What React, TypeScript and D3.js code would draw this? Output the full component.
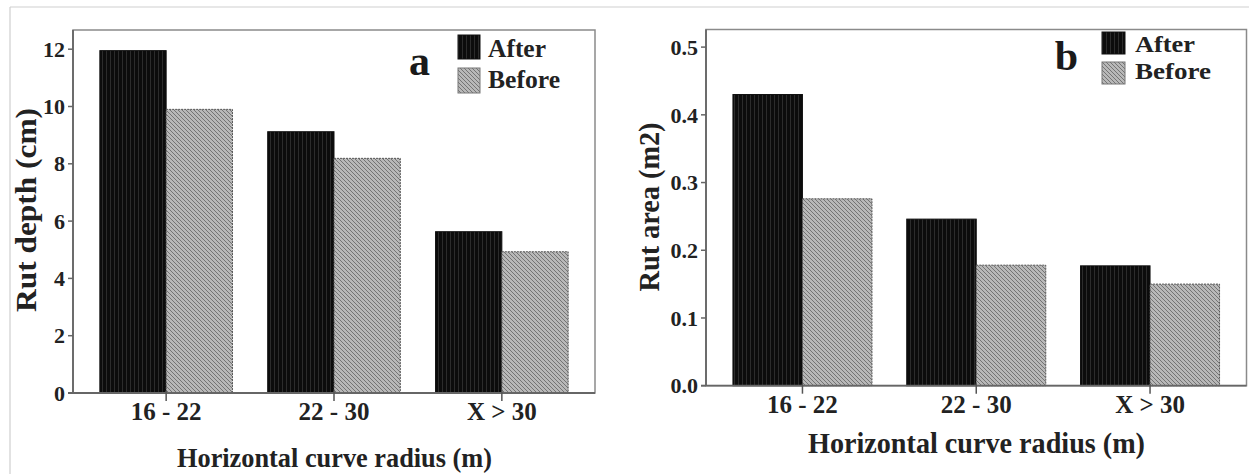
import React from "react";
import * as d3 from "d3";

const categories = ["16 - 22", "22 - 30", "X > 30"];
const seriesNames = ["After", "Before"];
const depthAfter = [11.95, 9.12, 5.63];
const depthBefore = [9.9, 8.19, 4.93];
const areaAfter = [0.43, 0.246, 0.177];
const areaBefore = [0.276, 0.178, 0.15];
const depthTicks = [0, 2, 4, 6, 8, 10, 12];
const areaTicks = [0, 0.1, 0.2, 0.3, 0.4, 0.5];

const FONT = "'Liberation Serif', 'Times New Roman', serif";

type PanelCfg = {
  id: string;
  letter: string;
  after: number[];
  before: number[];
  ticks: number[];
  fmt: (v: number) => string;
  yMax: number;
  x0: number; x1: number; y0: number; y1: number;
  padIn: number; padOut: number;
  yTickRight: number;
  xTickBase: number;
  xTitle: { cx: number; base: number; len: number; size: number };
  yTitle: string;
  yTitlePos: { cy: number; base: number; len: number; size: number };
  letterPos: { cx: number; base: number };
  legend: { bx: number; bw: number; ay: number; ah: number; by: number; bh: number; tx: number; ab: number; bb: number; size: number; la: number; lb: number };
};

const panels: PanelCfg[] = [
  {
    id: "a", letter: "a", after: depthAfter, before: depthBefore, ticks: depthTicks,
    fmt: (v) => d3.format("d")(v), yMax: 12.67,
    x0: 73, x1: 595, y0: 30, y1: 393, padIn: 0.21, padOut: 0.16,
    yTickRight: 65, xTickBase: 420,
    xTitle: { cx: 334.5, base: 467, len: 315, size: 28 },
    yTitle: "Rut depth (cm)",
    yTitlePos: { cy: 210, base: 36, len: 204, size: 29 },
    letterPos: { cx: 419.5, base: 75 },
    legend: { bx: 458, bw: 22, ay: 35, ah: 24, by: 68, bh: 25, tx: 488, ab: 57, bb: 88, size: 26, la: 58, lb: 72 },
  },
  {
    id: "b", letter: "b", after: areaAfter, before: areaBefore, ticks: areaTicks,
    fmt: (v) => d3.format(".1f")(v), yMax: 0.526,
    x0: 706, x1: 1246.5, y0: 29.5, y1: 385.7, padIn: 0.2, padOut: 0.155,
    yTickRight: 698, xTickBase: 413,
    xTitle: { cx: 976.5, base: 453, len: 337, size: 29 },
    yTitle: "Rut area (m2)",
    yTitlePos: { cy: 207, base: 659, len: 169, size: 29 },
    letterPos: { cx: 1066.5, base: 70 },
    legend: { bx: 1102, bw: 23, ay: 32, ah: 22, by: 62, bh: 22, tx: 1135, ab: 52, bb: 79, size: 24, la: 60, lb: 76 },
  },
];

function Panel({ p }: { p: PanelCfg }) {
  const x = d3.scaleBand<string>().domain(categories).range([p.x0, p.x1]).paddingInner(p.padIn).paddingOuter(p.padOut);
  const xs = d3.scaleBand<string>().domain(seriesNames).range([0, x.bandwidth()]);
  const y = d3.scaleLinear().domain([0, p.yMax]).range([p.y1, p.y0]);
  const values = [p.after, p.before];
  return (
    <g>
      <rect x={p.x0} y={p.y0} width={p.x1 - p.x0} height={p.y1 - p.y0} fill="white" stroke="#8a8a8a" strokeWidth={1.5} />
      {categories.map((c, i) =>
        seriesNames.map((s, j) => {
          const v = values[j][i];
          const bx = (x(c) as number) + (xs(s) as number);
          const by = y(v);
          return (
            <rect
              key={c + s}
              x={bx}
              y={by}
              width={xs.bandwidth()}
              height={y(0) - by}
              fill={j === 0 ? "url(#patAfter)" : "url(#patBefore)"}
              stroke={j === 0 ? "#111" : "#555"}
              strokeWidth={1}
              strokeDasharray={j === 0 ? undefined : "2,1"}
            />
          );
        })
      )}
      <line x1={p.x0} x2={p.x0} y1={p.y0} y2={p.y1} stroke="#666" strokeWidth={1.8} />
      <line x1={p.x0 - 5} x2={p.x1} y1={p.y1} y2={p.y1} stroke="#666" strokeWidth={1.8} />
      {p.ticks.map((t) => (
        <g key={t}>
          <line x1={p.x0 - 5} x2={p.x0} y1={y(t)} y2={y(t)} stroke="#666" strokeWidth={1.5} />
          <text x={p.yTickRight} y={y(t)} dy="0.35em" textAnchor="end" fontFamily={FONT} fontWeight="bold" fontSize={22} fill="#222">
            {p.fmt(t)}
          </text>
        </g>
      ))}
      {categories.map((c) => {
        const cx = (x(c) as number) + x.bandwidth() / 2;
        return (
          <g key={c}>
            <line x1={cx} x2={cx} y1={p.y1 - 2} y2={p.y1 + 8} stroke="#555" strokeWidth={1.5} />
            <text x={cx} y={p.xTickBase} textAnchor="middle" fontFamily={FONT} fontWeight="bold" fontSize={25} fill="#222">
              {c}
            </text>
          </g>
        );
      })}
      <text x={p.xTitle.cx} y={p.xTitle.base} textAnchor="middle" fontFamily={FONT} fontWeight="bold" fontSize={p.xTitle.size} fill="#222" textLength={p.xTitle.len} lengthAdjust="spacingAndGlyphs">
        Horizontal curve radius (m)
      </text>
      <text
        transform={`translate(${p.yTitlePos.base},${p.yTitlePos.cy}) rotate(-90)`}
        textAnchor="middle"
        fontFamily={FONT}
        fontWeight="bold"
        fontSize={p.yTitlePos.size}
        fill="#222"
        textLength={p.yTitlePos.len}
        lengthAdjust="spacingAndGlyphs"
      >
        {p.yTitle}
      </text>
      <text x={p.letterPos.cx} y={p.letterPos.base} textAnchor="middle" fontFamily={FONT} fontWeight="bold" fontSize={42} fill="#1a1a1a">
        {p.letter}
      </text>
      <rect x={p.legend.bx} y={p.legend.ay} width={p.legend.bw} height={p.legend.ah} fill="url(#patAfter)" stroke="#111" />
      <rect x={p.legend.bx} y={p.legend.by} width={p.legend.bw} height={p.legend.bh} fill="url(#patBefore)" stroke="#777" />
      <text x={p.legend.tx} y={p.legend.ab} fontFamily={FONT} fontWeight="bold" fontSize={p.legend.size} fill="#222" textLength={p.legend.la} lengthAdjust="spacingAndGlyphs">{seriesNames[0]}</text>
      <text x={p.legend.tx} y={p.legend.bb} fontFamily={FONT} fontWeight="bold" fontSize={p.legend.size} fill="#222" textLength={p.legend.lb} lengthAdjust="spacingAndGlyphs">{seriesNames[1]}</text>
    </g>
  );
}

export default function App() {
  return (
    <div style={{ position: "absolute", left: 0, top: 0 }}>
      <svg width={1249} height={474} style={{ display: "block", background: "white" }}>
        <defs>
          <pattern id="patAfter" patternUnits="userSpaceOnUse" width={4} height={4}>
            <rect width={4} height={4} fill="#0c0c0c" />
            <rect x={2} width={1} height={4} fill="#2c2c2c" />
          </pattern>
          <pattern id="patBefore" patternUnits="userSpaceOnUse" width={4} height={4}>
            <rect width={4} height={4} fill="#b8b8b8" />
            <path d="M-1,-1 L5,5 M-1,3 L1,5 M3,-1 L5,1" stroke="#747474" strokeWidth={1} />
          </pattern>
        </defs>
        <line x1={10} x2={1249} y1={7} y2={7} stroke="#cfcfcf" strokeWidth={1.2} />
        <line x1={10} x2={10} y1={7} y2={474} stroke="#cfcfcf" strokeWidth={1.2} />
        {panels.map((p) => (
          <Panel key={p.id} p={p} />
        ))}
      </svg>
    </div>
  );
}
